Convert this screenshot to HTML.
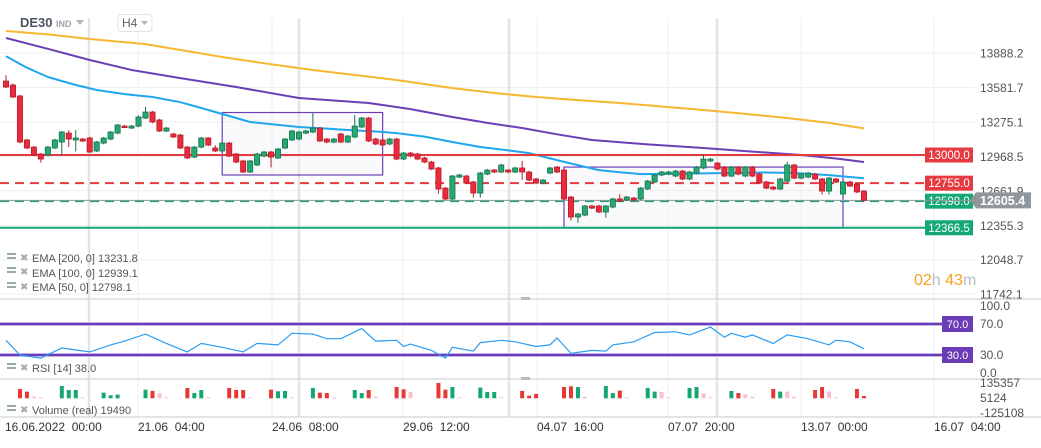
<!DOCTYPE html>
<html><head><meta charset="utf-8"><style>
html,body{margin:0;padding:0;background:#fff;width:1041px;height:448px;overflow:hidden}
svg{display:block;font-family:"Liberation Sans",sans-serif}
</style></head><body>
<svg id="chart" width="1041" height="448" viewBox="0 0 1041 448">
<g id="grid"></g>
<g id="main"></g>
<g id="rsi"></g>
<g id="vol"></g>
<g id="axes"></g>
<g>
  <text x="20" y="27" font-size="13" font-weight="bold" fill="#4a5560">DE30</text>
  <text x="56" y="27" font-size="9" font-weight="bold" fill="#9aa3aa">IND</text>
  <path d="M76 20 L84 20 L80 25 Z" fill="#b0b6bb"/>
  <rect x="118" y="14.5" width="34" height="17" rx="3" fill="#fff" stroke="#dfe3e6"/>
  <text x="122" y="27" font-size="12" fill="#5a646c">H4</text>
  <path d="M141 21 L148 21 L144.5 25 Z" fill="#b0b6bb"/>
</g>
<g>
  <g><rect x="7" y="253" width="9" height="2" fill="#9aa"/><rect x="7" y="257" width="9" height="2" fill="#9aa"/><text x="20" y="261" font-size="10" fill="#aaa">✖</text><text x="32" y="262" font-size="11" fill="#555">EMA [200, 0] 13231.8</text></g>
  <g><rect x="7" y="267" width="9" height="2" fill="#9aa"/><rect x="7" y="271" width="9" height="2" fill="#9aa"/><text x="20" y="275" font-size="10" fill="#aaa">✖</text><text x="32" y="277" font-size="11" fill="#555">EMA [100, 0] 12939.1</text></g>
  <g><rect x="7" y="282" width="9" height="2" fill="#9aa"/><rect x="7" y="286" width="9" height="2" fill="#9aa"/><text x="20" y="290" font-size="10" fill="#aaa">✖</text><text x="32" y="291" font-size="11" fill="#555">EMA [50, 0] 12798.1</text></g>
  <g><rect x="7" y="363" width="9" height="2" fill="#9aa"/><rect x="7" y="367" width="9" height="2" fill="#9aa"/><text x="20" y="371" font-size="10" fill="#aaa">✖</text><text x="32" y="372" font-size="11" fill="#555">RSI [14] 38.0</text></g>
  <g><rect x="7" y="405" width="9" height="2" fill="#9aa"/><rect x="7" y="409" width="9" height="2" fill="#9aa"/><text x="20" y="413" font-size="10" fill="#aaa">✖</text><text x="32" y="414" font-size="11" fill="#555">Volume (real) 19490</text></g>
</g>
<text x="914" y="285" font-size="16"><tspan fill="#f7a21b">02</tspan><tspan fill="#b8bec3">h </tspan><tspan fill="#f7a21b">43</tspan><tspan fill="#b8bec3">m</tspan></text>
</svg>
<script>
// ---- data ----
const opens=[13644,13609,13514,13131,13069,13009,13000,13061,13113,13191,13131,13139,13148,13035,13104,13139,13191,13252,13235,13252,13322,13374,13305,13209,13183,13174,13069,12982,13069,13148,13061,13035,13104,13009,12948,12852,12913,12991,13026,12974,13061,13131,13139,13191,13200,13235,13139,13113,13183,13113,13157,13244,13322,13139,13131,13096,13139,12965,13017,13009,12974,12939,12887,12712,12617,12808,12817,12765,12669,12834,12869,12852,12869,12852,12887,12852,12791,12756,12843,12895,12869,12634,12460,12477,12556,12556,12504,12547,12617,12608,12625,12617,12704,12765,12826,12834,12817,12860,12791,12843,12887,12948,12930,12895,12817,12895,12817,12895,12834,12765,12721,12704,12773,12913,12799,12808,12834,12791,12686,12791,12660,12765,12747,12686];
const closes=[13592,13505,13113,13061,13000,12965,13069,13131,13200,13139,13148,13122,13026,13113,13148,13200,13261,13244,13252,13331,13374,13287,13209,13235,13157,13061,12974,13069,13148,13087,13035,13104,12991,12939,12852,12948,13009,13026,12982,13052,13139,13209,13200,13209,13235,13122,13113,13139,13113,13165,13252,13322,13122,13096,13087,13139,12965,13017,12991,12965,12939,12878,12704,12617,12817,12826,12756,12669,12843,12869,12852,12913,12852,12887,12852,12782,12756,12782,12887,12852,12617,12460,12486,12556,12538,12504,12556,12617,12599,12634,12608,12712,12773,12826,12852,12852,12860,12791,12852,12895,12965,12965,12878,12817,12895,12834,12895,12817,12756,12712,12704,12791,12913,12799,12834,12843,12791,12686,12799,12765,12765,12730,12678,12605];
const wickUp=[50,15,10,10,10,10,10,10,10,25,70,10,10,10,10,10,10,10,10,15,45,10,10,10,10,10,10,10,10,10,25,10,10,10,10,10,10,10,10,10,10,10,10,10,130,10,10,10,10,10,95,10,10,10,10,10,10,10,10,10,10,10,10,10,10,10,10,10,10,10,10,10,10,10,60,10,10,10,10,10,10,10,10,10,10,10,10,10,40,10,10,10,10,10,10,10,10,10,10,10,40,10,10,10,10,10,10,10,10,10,10,10,30,10,10,10,10,10,10,10,10,10,10,10];
const wickDn=[10,10,10,10,10,30,10,10,110,70,100,10,10,10,10,10,10,10,10,10,10,10,10,10,10,10,10,10,10,10,10,10,10,10,10,10,10,10,90,10,10,10,10,10,10,10,10,10,10,10,10,10,10,10,10,10,10,10,10,10,10,10,40,10,10,10,10,40,40,10,10,10,10,10,70,10,10,10,10,10,10,30,50,10,10,10,50,10,10,10,10,10,10,10,10,10,10,10,10,10,10,10,10,10,10,10,10,10,10,10,10,10,10,10,10,10,10,30,30,10,10,10,10,10];
const ema200Idx=[0,6,12,20,26,32,38,44,50,56,64,70,76,82,88,94,100,106,112,118,123];
const ema200Val=[14080,14050,14010,13966,13905,13844,13790,13740,13697,13653,13583,13540,13505,13478,13453,13422,13392,13358,13322,13280,13232];
const ema100Idx=[0,6,12,18,25,33,42,52,58,64,69,74,79,84,92,100,107,114,119,123];
const ema100Val=[14019,13925,13827,13740,13670,13592,13496,13453,13400,13331,13280,13235,13180,13131,13092,13061,13030,13000,12970,12939];
const ema50Idx=[0,3,6,10,13,17,21,25,28,32,35,39,42,46,49,53,56,60,64,68,72,75,80,85,88,91,97,104,109,113,118,123];
const ema50Val=[13860,13760,13679,13610,13566,13530,13505,13460,13409,13340,13287,13262,13244,13230,13218,13205,13191,13160,13113,13070,13040,13017,12940,12869,12850,12834,12838,12843,12848,12843,12825,12798];
const levelVals=[13000,12755,12598,12366.5];
const levelKinds=['red-solid','red-dashed','green-dashed','green-solid'];
const lastPrice=12605.4;
const boxes=[[31,54,13370,12826],[80,120,12895,12364]]; // [startIdx,endIdx,top,bottom]
const priceTicks=['13888.2','13581.7','13275.1','12968.5','12661.9','12355.3','12048.7','11742.1'];
const rsiIdx=[0,2,5,8,12,15,17,20,23,26,28,31,34,36,39,41,44,46,48,51,53,56,57,58,61,63,64,67,68,71,73,76,78,79,81,84,86,87,90,93,96,98,101,103,104,106,107,110,112,115,118,119,121,123];
const rsiVal=[49,30,26,39,34,43,48,57,45,34,45,40,34,45,43,58,57,51,51,64,48,49,41,44,36,26,40,35,46,49,47,41,43,52,32,36,35,43,47,59,60,56,66,53,58,53,56,45,56,51,43,49,47,38];
const rsiTicks=['100.0','70.0','30.0','0.0'];
const volIdx=[2,3,4,5,8,9,10,11,14,15,16,20,21,22,23,26,27,28,29,32,33,34,35,38,39,40,41,44,45,46,47,50,51,52,53,56,57,58,62,63,64,65,68,69,70,71,74,75,76,80,81,82,83,86,87,88,89,92,93,94,95,98,99,100,101,104,105,106,107,110,111,112,113,116,117,118,119,122,123];
const volVal=[81000,58000,14500,8700,107000,72000,72000,8700,49000,26000,32000,75000,64000,43000,8700,90000,46000,72000,8700,90000,72000,72000,8700,75000,61000,64000,8700,90000,49000,46000,8700,72000,46000,72000,14500,98000,78000,55000,133000,75000,98000,8700,93000,55000,55000,8700,64000,23000,38000,98000,104000,98000,14500,107000,46000,67000,8700,90000,58000,55000,8700,90000,98000,43000,8700,64000,46000,35000,14500,81000,58000,58000,14500,72000,98000,58000,8700,81000,20000];
const volDir=['r','r','p','p','g','g','g','p','g','g','g','g','r','p','p','r','g','g','p','r','r','r','p','r','g','g','p','g','r','r','p','g','g','r','p','r','r','p','r','r','g','p','g','g','g','p','r','r','r','r','r','g','p','g','g','r','p','g','g','p','p','g','g','p','p','g','r','p','p','r','g','p','p','r','r','p','p','r','r'];
const volTicks=['135357','5124','-125108'];
const dateLabels=['16.06.2022  00:00','21.06  04:00','24.06  08:00','29.06  12:00','04.07  16:00','07.07  20:00','13.07  00:00','16.07  04:00'];

// ---- scales ----
const NS='http://www.w3.org/2000/svg';
const px=i=>6+i*6.975;
const py=p=>53+(13888.2-p)*0.11485;
const ry=v=>378.25-v*0.775;
const vy=v=>398.3-v/8682;
function mk(parent,tag,attrs){const e=document.createElementNS(NS,tag);for(const k in attrs)e.setAttribute(k,attrs[k]);document.getElementById(parent).appendChild(e);return e;}

// grid
for(let k=0;k<8;k++){const y=53+k*34.45;
 const g=mk('grid','line',{x1:0,x2:975,y1:y,y2:y,stroke:'#efefef','stroke-width':1});
 
 }
[138,272,403,537,668,801,934].forEach(x=>{const g=mk('grid','line',{x1:x,x2:x,y1:18,y2:417,stroke:'#efefef','stroke-width':1});
 
 });
[89,299,509,717].forEach(x=>{const g=mk('grid','line',{x1:x,x2:x,y1:18,y2:417,stroke:'#e4e4e4','stroke-width':2.5});
 
 });
[[0,1041,299],[0,1041,379],[0,1041,417]].forEach(a=>{const g=mk('grid','line',{x1:a[0],x2:a[1],y1:a[2],y2:a[2],stroke:'#dcdcdc','stroke-width':1.5});
 
 });
[299,379].forEach(y=>{const h=mk('grid','rect',{x:521,y:y-2,width:9,height:3,fill:'#bbb'});
 
 });

// boxes
boxes.forEach(b=>{const r=mk('main','rect',{x:px(b[0]),y:py(b[2]),width:px(b[1])-px(b[0]),height:py(b[3])-py(b[2]),fill:'rgba(240,240,245,0.35)',stroke:'#6b3fb8','stroke-width':1.2});
 
 });

// EMA lines
function line(idx,val,color,name){const d=idx.map((i,k)=>(k?'L':'M')+px(i).toFixed(1)+' '+py(val[k]).toFixed(1)).join(' ');
 const p=mk('main','path',{d:d,fill:'none',stroke:color,'stroke-width':2,'stroke-linejoin':'round'});
 
 }
line(ema200Idx,ema200Val,'#f7b731','ema-200-line');
line(ema100Idx,ema100Val,'#6c3fb5','ema-100-line');
line(ema50Idx,ema50Val,'#1fa7ee','ema-50-line');

// levels
const lvlColor={'red-solid':'#e53a3f','red-dashed':'#e53a3f','green-dashed':'#14a876','green-solid':'#14a876'};
levelVals.forEach((v,k)=>{const kind=levelKinds[k];const y=py(v);
 const l=mk('main','line',{x1:0,x2:925,y1:y,y2:y,stroke:lvlColor[kind],'stroke-width':2,'stroke-dasharray':kind.includes('dashed')?'9 6':'none'});
 
 
 const r=mk('main','rect',{x:925,y:y-7.5,width:48,height:15,fill:lvlColor[kind]});
 
 
 const t=mk('main','text',{x:949,y:y+4,'font-size':11.5,fill:'#fff','text-anchor':'middle'});
 t.textContent=v.toFixed(1);
 
 });
{const y=py(lastPrice);const l=mk('main','line',{x1:0,x2:975,y1:y,y2:y,stroke:'#8f979c','stroke-width':1});
 
 }

// candles
opens.forEach((o,i)=>{const c=closes[i];const up=c>=o;const x=px(i);
 const hi=Math.max(o,c)+wickUp[i],lo=Math.min(o,c)-wickDn[i];
 const w=mk('main','line',{x1:x,x2:x,y1:py(hi),y2:py(lo),stroke:up?'#17724d':'#b51d2b','stroke-width':1});
 
 
 const top=py(Math.max(o,c)),bot=py(Math.min(o,c));
 const b=mk('main','rect',{x:x-2.6,y:top,width:5.2,height:Math.max(1.5,bot-top),fill:up?'#26a872':'#ea2b3d',stroke:up?'#17724d':'#b51d2b','stroke-width':0.8});
 
 });

// price axis
priceTicks.forEach((t,k)=>{const e=mk('axes','text',{x:980,y:53+k*34.45+4.5,'font-size':12,fill:'#555'});
 e.textContent=t;
 
 });
{const y=py(lastPrice);const p=mk('axes','path',{d:`M970 ${y} L976 ${y-8} L1031 ${y-8} L1031 ${y+8} L976 ${y+8} Z`,fill:'#8f979c'});
 
 
 const t=mk('axes','text',{x:980,y:y+4.5,'font-size':12.5,'font-weight':'bold',fill:'#fff'});
 t.textContent=lastPrice.toFixed(1);
 
 }

// RSI
[70,30].forEach(v=>{const y=ry(v);
 const h=mk('rsi','line',{x1:0,x2:942,y1:y,y2:y,stroke:'#c5b3e6','stroke-width':4});
 
 
 const l=mk('rsi','line',{x1:0,x2:942,y1:y,y2:y,stroke:'#6a3cb5','stroke-width':2});
 
 
 const r=mk('rsi','rect',{x:942,y:y-8,width:31,height:16,fill:'#6a3cb5'});
 
 
 const t=mk('rsi','text',{x:957.5,y:y+4,'font-size':11,fill:'#fff','text-anchor':'middle'});
 t.textContent=v.toFixed(1);
 
 });
{const d=rsiIdx.map((i,k)=>(k?'L':'M')+px(i).toFixed(1)+' '+ry(rsiVal[k]).toFixed(1)).join(' ');
 const p=mk('rsi','path',{d:d,fill:'none',stroke:'#2b9cf2','stroke-width':1.2});
 
 }
[306,324,355,373].forEach((y,k)=>{const t=mk('axes','text',{x:980,y:y+4,'font-size':12,fill:'#555'});
 t.textContent=rsiTicks[k];
 
 });

// volume
const vc={r:'#e53935',g:'#14a86e',p:'#f8bfd1'};
volIdx.forEach((i,k)=>{const y=vy(volVal[k]);
 const b=mk('vol','rect',{x:px(i)-2,y:y,width:4,height:398.3-y,fill:vc[volDir[k]]});
 
 });
[387,402,417].forEach((y,k)=>{const t=mk('axes','text',{x:980,y:y,'font-size':12,fill:'#555'});
 t.textContent=volTicks[k];
 
 });

// date axis
[5,138,272,403,537,668,801,934].forEach((x,k)=>{const t=mk('axes','text',{x:x,y:431,'font-size':12,fill:'#333'});
 t.style.whiteSpace='pre';
 t.textContent=dateLabels[k];
 
 });
</script>
</body></html>
